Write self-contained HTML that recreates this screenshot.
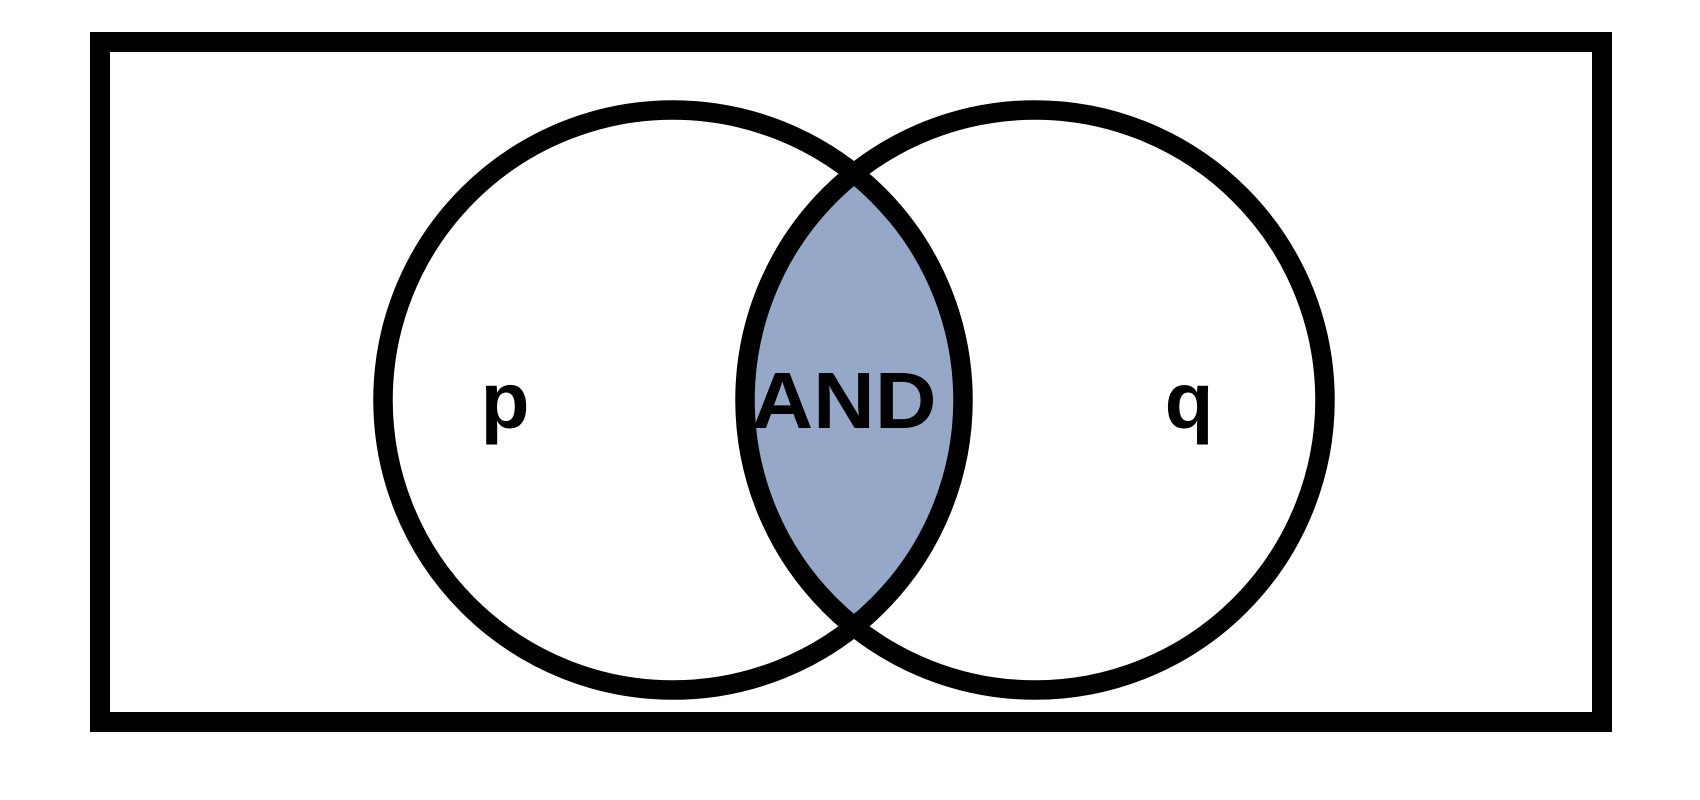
<!DOCTYPE html>
<html><head><meta charset="utf-8"><style>html,body{margin:0;padding:0;background:#fff;}svg{display:block}</style></head>
<body>
<svg width="1700" height="800" viewBox="0 0 1700 800">
  <defs>
    <clipPath id="clipP"><circle cx="673" cy="400" r="290"/></clipPath>
  </defs>
  <rect x="100" y="42" width="1502" height="680" fill="none" stroke="#000" stroke-width="20"/>
  <circle cx="1035" cy="400" r="290" fill="#96a8c8" clip-path="url(#clipP)"/>
  <circle cx="673" cy="400" r="290" fill="none" stroke="#000" stroke-width="19.5"/>
  <circle cx="1035" cy="400" r="290" fill="none" stroke="#000" stroke-width="19.5"/>
  <g font-family="Liberation Sans, sans-serif" font-weight="bold" font-size="80" text-anchor="middle">
    <text x="505" y="428">p</text>
    <text x="844" y="428" textLength="185" lengthAdjust="spacingAndGlyphs">AND</text>
    <text x="1189" y="428">q</text>
  </g>
</svg>
</body></html>
